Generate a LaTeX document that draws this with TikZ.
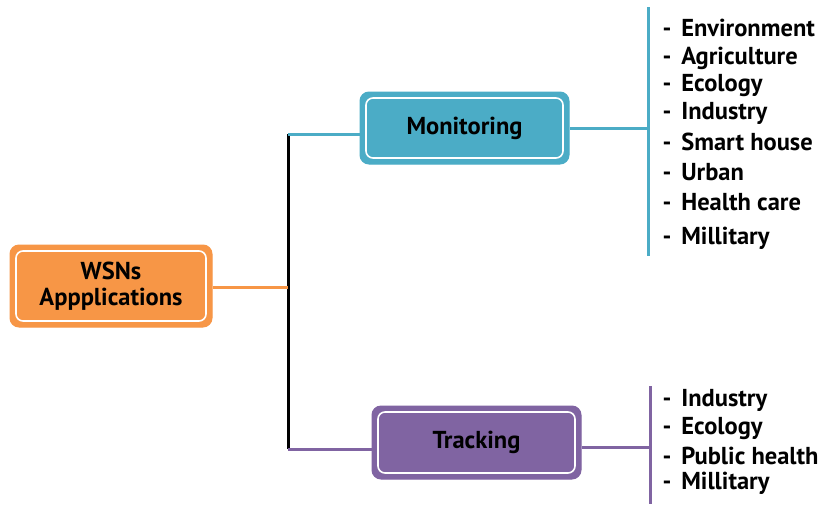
\documentclass[tikz,border=0pt]{standalone}
\usepackage{fontspec}
\setmainfont{PT Sans}
\usetikzlibrary{positioning}

\definecolor{appOrange}{HTML}{F79646}
\definecolor{monBlue}{HTML}{4BACC6}
\definecolor{trackPurple}{HTML}{8064A2}

\begin{document}
\begin{tikzpicture}[x=1pt,y=-1pt,line width=3pt,
    box/.style={draw=#1,fill=#1,rounded corners=9pt,line width=1pt,
      minimum width=200pt,minimum height=70pt,align=center,
      font=\fontsize{24.5}{26}\selectfont\bfseries,
      path picture={\draw[white,line width=1.6pt,rounded corners=7pt]
        ([shift={(6pt,-6pt)}]path picture bounding box.north west) rectangle
        ([shift={(-6pt,6pt)}]path picture bounding box.south east);}},
    item/.style={anchor=west,inner sep=0pt,font=\fontsize{24.5}{26}\selectfont\bfseries}]
  \useasboundingbox (0,0) rectangle (825,504);

  % main boxes
  \node[box=appOrange,minimum width=202pt,minimum height=82pt] (wsn) at (111,286) {WSNs\\Appplications};
  \node[box=monBlue,minimum width=209pt,minimum height=72pt] (mon) at (464.5,128) {Monitoring};
  \node[box=trackPurple,minimum width=209pt,minimum height=73pt] (trk) at (476.5,442.5) {Tracking};

  % spine
  \coordinate (top) at (288,134);
  \coordinate (bot) at (288,449);
  \coordinate (mid) at (288,287);
  \draw[black] (top) -- (bot);
  \draw[appOrange] (wsn.east |- mid) -- (mid);
  \draw[monBlue] (top) -- (mon.west |- top);
  \draw[trackPurple] (bot) -- (trk.west |- bot);

  % lists
  \coordinate (mtop) at (648,7);
  \coordinate (mbot) at (648,256);
  \coordinate (ttop) at (650,386);
  \coordinate (tbot) at (650,504);
  \draw[monBlue] (mtop) -- (mbot);
  \draw[monBlue] (mon.east) -- (mon.east -| mtop);
  \draw[trackPurple] (ttop) -- (tbot);
  \draw[trackPurple] (trk.east |- 0,447) -- (650,447);

  \foreach \y/\txt [count=\i] in {28/Environment,58/Agriculture,86/Ecology,113/Industry,
      142/Smart house,172/Urban,202/Health care,238/Millitary}
    \node[item] (m\i) at (661,\y) {-\hspace{10pt}\txt};
  \foreach \y/\txt [count=\i] in {400/Industry,429/Ecology,456/Public health,483/Millitary}
    \node[item] (t\i) at (661,\y) {-\hspace{10pt}\txt};
\end{tikzpicture}
\end{document}
